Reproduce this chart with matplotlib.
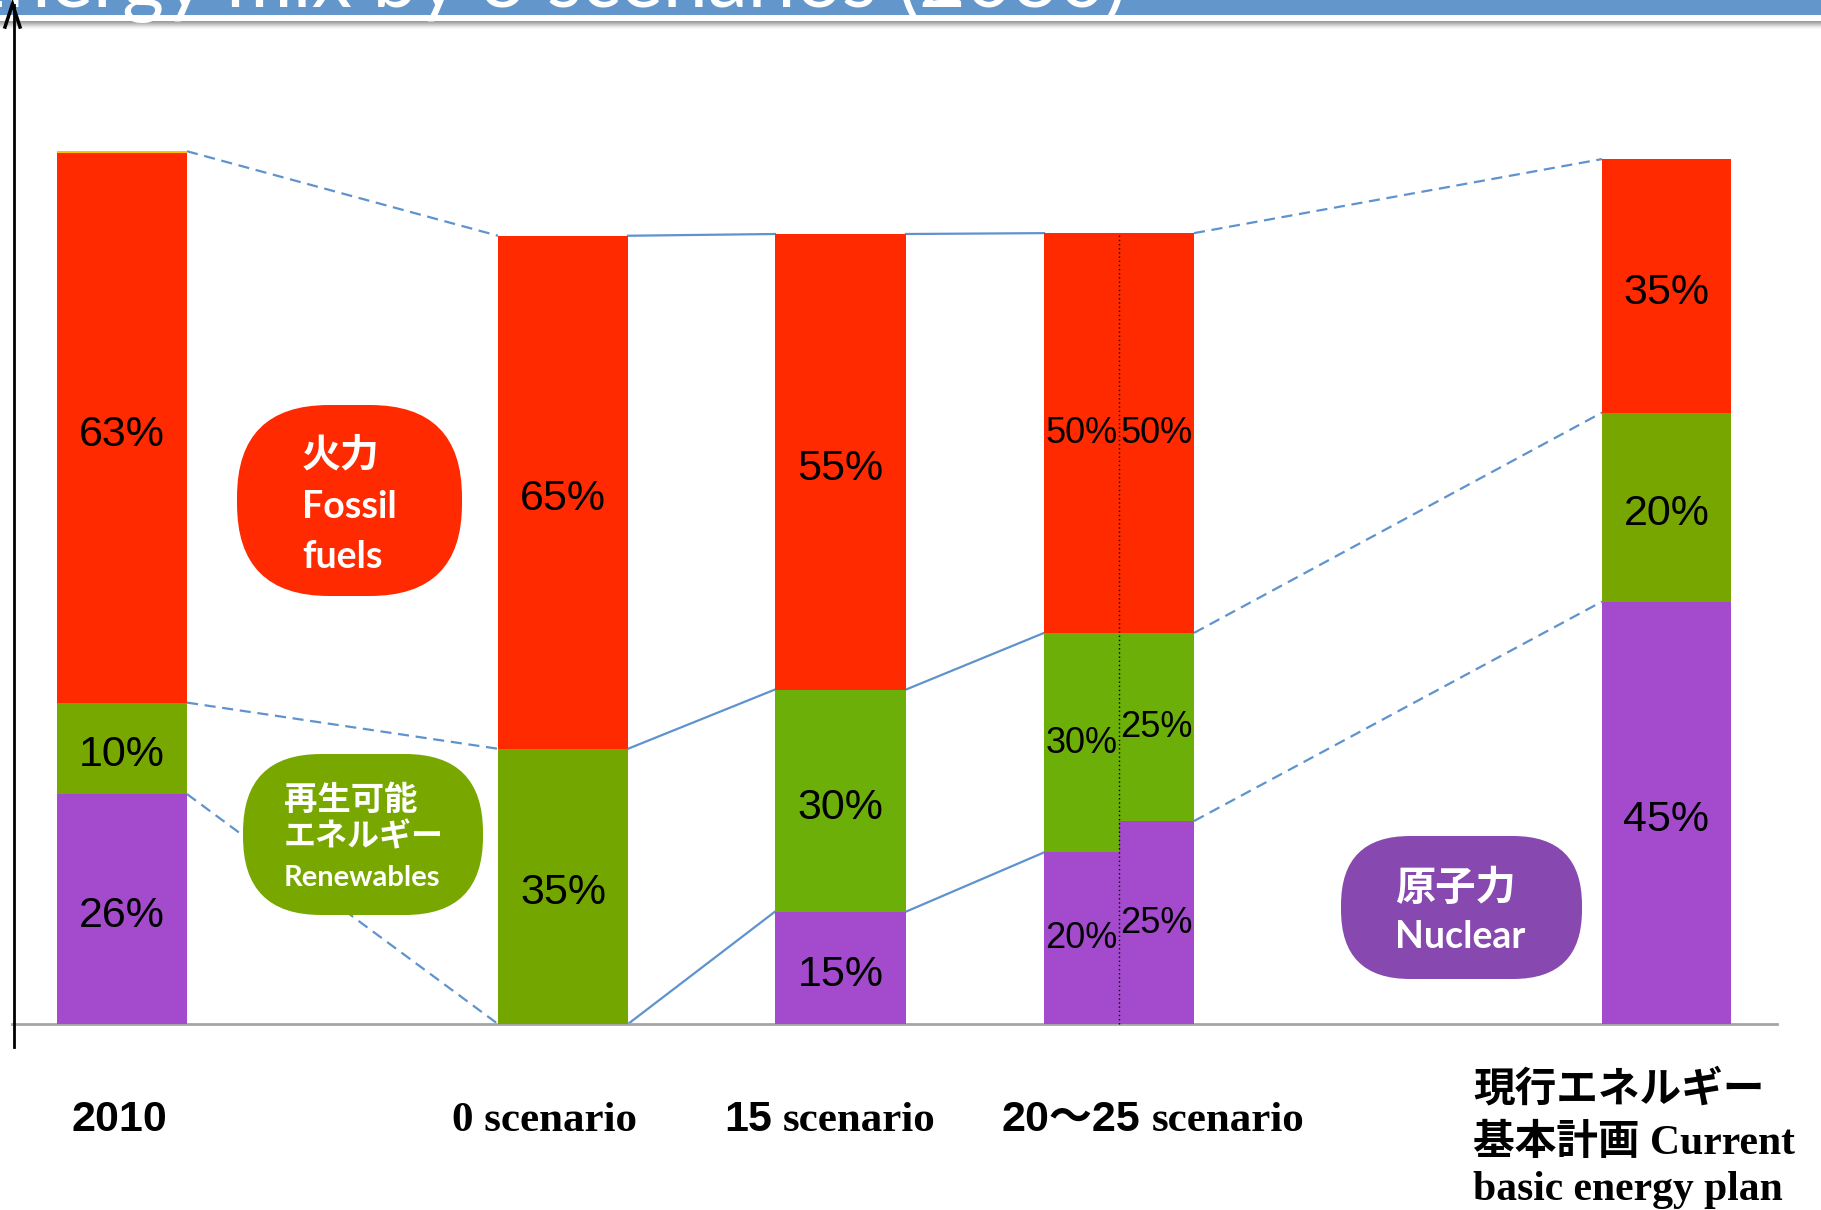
import matplotlib
matplotlib.use('Agg')
import matplotlib.pyplot as plt
from matplotlib.patches import FancyBboxPatch, Rectangle

# segment heights, 2010 total = 100
columns = ['2010', '0 scenario', '15 scenario', '20～25 (a)', '20～25 (b)', 'current plan']
nuclear = [26.4, 0.0, 12.9, 19.7, 23.3, 48.5]
renewables = [10.5, 31.6, 25.5, 25.2, 21.6, 21.7]
fossil = [63.1, 58.9, 52.3, 45.9, 45.9, 29.1]
other = [0.2, 0.0, 0.0, 0.0, 0.0, 0.0]

# printed shares
nuclear_lbl = ['26%', '', '15%', '20%', '25%', '45%']
renew_lbl = ['10%', '35%', '30%', '30%', '25%', '20%']
fossil_lbl = ['63%', '65%', '55%', '50%', '50%', '35%']

cat_labels = [[('2010', 'sans')],
              [('0 scenario', 'serif')],
              [('15', 'sans'), ('scenario', 'serif')],
              [('20～25', 'sans'), ('scenario', 'serif')]]
plan_label = [[('現行エネルギー', 'cjk')],
              [('基本計画', 'cjk'), ('Current', 'serif')],
              [('basic energy plan', 'serif')]]
fossil_bubble = ['火力', 'Fossil', 'fuels']
renew_bubble = ['再生可能', 'エネルギー', 'Renewables']
nuclear_bubble = ['原子力', 'Nuclear']
title = 'Energy mix by 3 scenarios (2030)'

# layout (pixels of the 1821x1210 canvas)
W, H = 1821, 1210
BASE = 1024          # baseline, px from top
PX = 8.71            # px per unit
lefts = [57, 498, 775, 1044, 1118.5, 1602]
widths = [130, 130, 131, 74.5, 75.5, 129]
greens = ['#76A800', '#73A700', '#6BAF08', '#6BAF08', '#6BAF08', '#78A600']
RED = '#FF2A00'
PURPLE = '#A34BCC'
YELLOW = '#FFC000'
LINK = '#5E93CD'

FONTS = {'sans': ['Liberation Sans', 'Noto Sans CJK JP'],
         'serif': ['Liberation Serif', 'Noto Sans CJK JP'],
         'cjk': ['Noto Sans CJK JP', 'DejaVu Sans']}
BUB = ['Lato', 'Noto Sans CJK JP']

fig = plt.figure(figsize=(W / 100, H / 100), dpi=100)
renderer = fig.canvas.get_renderer()

ax = fig.add_axes([0, 0, 1, 1])
ax.set_xlim(0, W)
ax.set_ylim(-(H - BASE) / PX, BASE / PX)
ax.axis('off')

ov = fig.add_axes([0, 0, 1, 1], zorder=5)
ov.set_xlim(0, W)
ov.set_ylim(H, 0)
ov.axis('off')
ov.patch.set_visible(False)

# stacked bars
b1 = nuclear
b2 = [a + b for a, b in zip(nuclear, renewables)]
b3 = [a + b for a, b in zip(b2, fossil)]
tops = [a + b for a, b in zip(b3, other)]
ax.bar(lefts, nuclear, width=widths, align='edge', color=PURPLE, zorder=2)
ax.bar(lefts, renewables, width=widths, bottom=b1, align='edge', color=greens, zorder=2)
ax.bar(lefts, fossil, width=widths, bottom=b2, align='edge', color=RED, zorder=2)
ax.bar(lefts, other, width=widths, bottom=b3, align='edge', color=YELLOW, zorder=2)

# connector lines between bars
pairs = [(0, 1, (0, (5, 3))), (1, 2, '-'), (2, 3, '-'), (4, 5, (0, (5, 3)))]
for i, j, ls in pairs:
    x0 = lefts[i] + widths[i]
    x1 = lefts[j]
    for lev in (tops, b2, b1):
        ax.plot([x0, x1], [lev[i], lev[j]], color=LINK, lw=1.6, ls=ls, zorder=1)

# divider inside the 20~25 bar
ax.plot([lefts[4], lefts[4]], [0, tops[4]], color='black', lw=1, ls=(0, (1, 2)), zorder=3)

# baseline
ax.plot([12, 1777], [0, 0], color='#A6A6A6', lw=2, zorder=1)

# percentage labels
for k in range(len(columns)):
    cx = lefts[k] + widths[k] / 2
    small = k in (3, 4)
    fs = 26 if small else 31
    off = -10 if small else -18
    for lbl, lo, hi in ((nuclear_lbl[k], 0, b1[k]), (renew_lbl[k], b1[k], b2[k]),
                        (fossil_lbl[k], b2[k], b3[k])):
        if lbl:
            ax.annotate(lbl, (cx, (lo + hi) / 2), xytext=(0, off),
                        textcoords='offset pixels', ha='center', va='baseline',
                        fontsize=fs, family=FONTS['sans'], color='black', zorder=4)


def put_pieces(x, y, pieces, size=31, align='center'):
    arts = []
    for s, fam in pieces:
        t = ov.text(0, y, s, fontsize=size, fontweight='bold', family=FONTS[fam],
                    ha='left', va='baseline', color='black')
        arts.append(t)
    ws = [t.get_window_extent(renderer).width for t in arts]
    gap = size * 100 / 72 * 0.25
    total = sum(ws) + gap * (len(ws) - 1)
    cx = x - total / 2 if align == 'center' else x
    for t, w in zip(arts, ws):
        t.set_x(cx)
        cx += w + gap


for pieces, cx in zip(cat_labels, [119, 545, 830, 1153]):
    put_pieces(cx, 1131, pieces)
for pieces, by in zip(plan_label, [1102, 1154, 1200]):
    put_pieces(1473, by, pieces, size=30, align='left')

# bubbles
bubble_specs = [
    (fossil_bubble, (237, 405, 225, 191, 92), RED, 302, [466, 518, 568], [28, 27, 27]),
    (renew_bubble, (243, 754, 240, 161, 78), '#78A800', 284, [810, 846, 886], [24, 23, 21]),
    (nuclear_bubble, (1341, 836, 241, 143, 69), '#8749B0', 1395, [900, 948], [29, 27]),
]
for lines, (bx, by, bw, bh, r), col, tx, bls, sizes in bubble_specs:
    ov.add_patch(FancyBboxPatch((bx, by), bw, bh, boxstyle=f'round,pad=0,rounding_size={r}',
                                fc=col, ec='none', zorder=3))
    for s, yy, fs in zip(lines, bls, sizes):
        ov.text(tx, yy, s, fontsize=fs, fontweight='bold', family=BUB, color='white',
                ha='left', va='baseline', zorder=4)

# title band (cut off at the top, as in the source slide)
band = Rectangle((0, 0), W, 15, fc='#6397CB', ec='none', zorder=2)
ov.add_patch(band)
shades = ['#9C9C9C', '#A8A8A8', '#B6B6B6', '#C6C6C6', '#D6D6D6', '#E4E4E4', '#F0F0F0', '#F8F8F8']
for i, c in enumerate(shades):
    ov.add_patch(Rectangle((0, 21 + i), W, 1, fc=c, ec='none', zorder=2))
tt = ov.text(1127, 7, title, fontsize=58, family=['Lato', 'DejaVu Sans'], color='white',
             ha='right', va='baseline', zorder=3)
tt.set_clip_path(band)

# value axis with arrow
ov.plot([14, 14], [1047, 5], color='black', lw=2, zorder=6)
ov.plot([5, 12.5, 20], [27, 4, 27], color='black', lw=2.5, zorder=6, solid_joinstyle='miter')

fig.savefig('out.png', dpi=100)
